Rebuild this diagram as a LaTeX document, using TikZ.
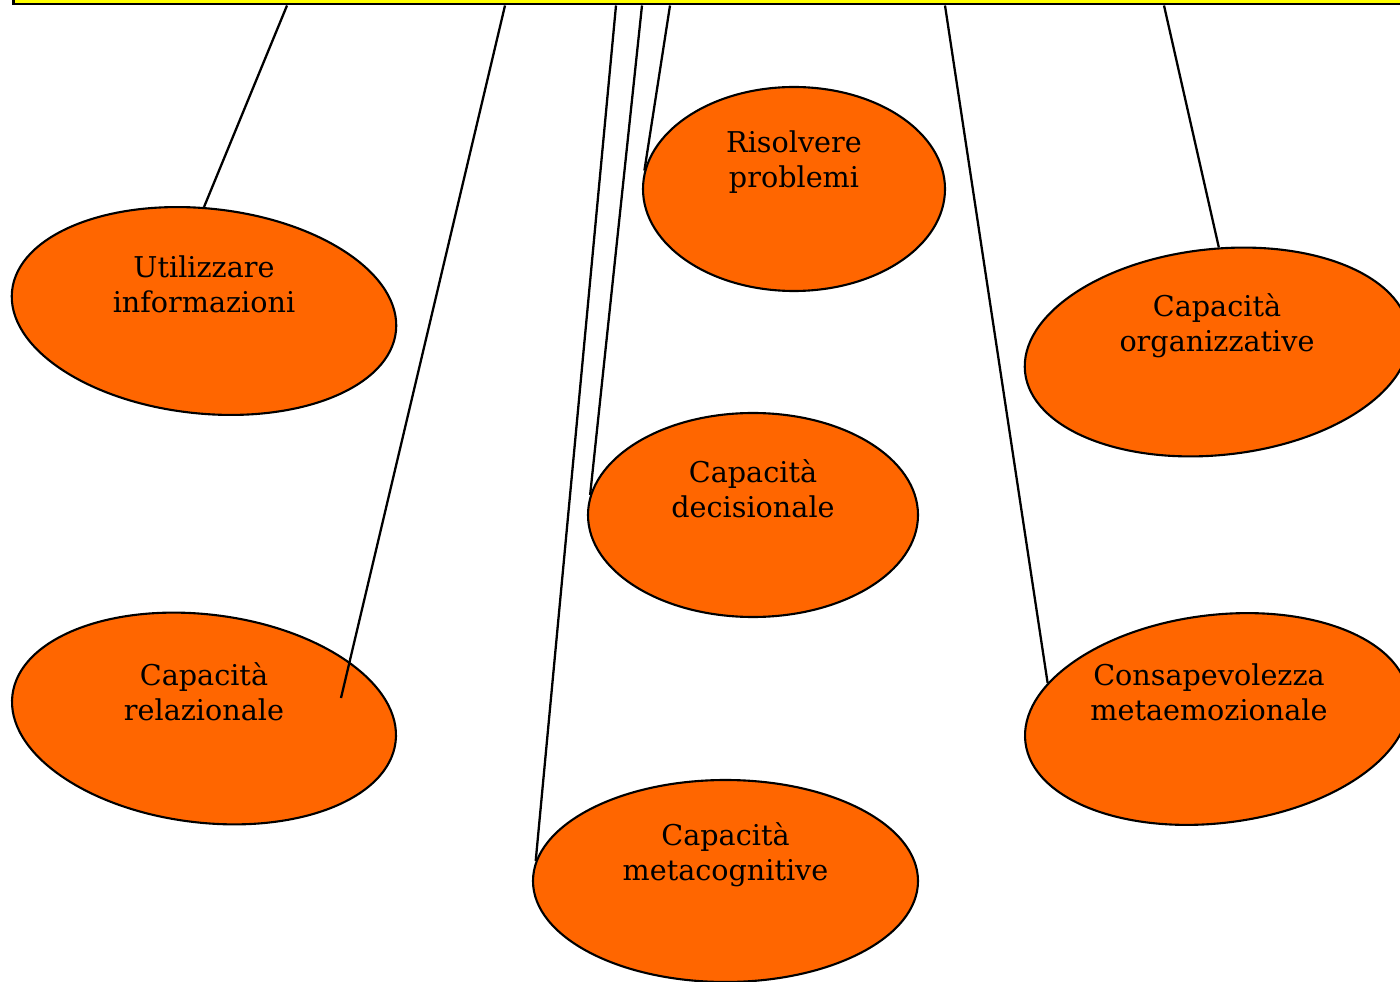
\documentclass[tikz,border=0pt]{standalone}
\usepackage{fontspec}
\setmainfont{DejaVu Serif}
\usetikzlibrary{shapes.geometric}
\definecolor{figorange}{RGB}{255,102,0}
\definecolor{figyellow}{RGB}{255,255,0}
\tikzset{
  oval/.style={ellipse, draw=black, line width=1.2pt, fill=figorange, inner sep=0pt},
  ovaltext/.style={align=center, font=\fontsize{16.3}{20}\selectfont, text=black, inner sep=0pt, yshift=0.53cm},
  topbar/.style={draw=black, line width=1.5pt, fill=figyellow, inner sep=0pt},
  link/.style={draw=black, line width=1.3pt}
}
\begin{document}
\begin{tikzpicture}[x=1cm,y=1cm]
  \useasboundingbox (0,0) rectangle (28,19.62);
  \clip (0,0) rectangle (28,19.62);

  \node[topbar, anchor=south west, minimum width=28.5cm, minimum height=1.2cm] (bar) at (0.24,19.51) {};
  \coordinate (t1) at (5.74,19.51);
  \coordinate (t2) at (10.10,19.51);
  \coordinate (t3) at (12.32,19.51);
  \coordinate (t4) at (12.84,19.51);
  \coordinate (t5) at (13.40,19.51);
  \coordinate (t6) at (18.90,19.51);
  \coordinate (t7) at (23.28,19.51);

  % left column
  \node[oval, minimum width=7.72cm, minimum height=4.10cm, rotate=-6] (util) at (4.08,13.40) {};
  \node[ovaltext] (utiltxt) at (util) {Utilizzare\\informazioni};
  \node[oval, minimum width=7.72cm, minimum height=4.16cm, rotate=-7] (relaz) at (4.08,5.25) {};
  \node[ovaltext] (relaztxt) at (relaz) {Capacità\\relazionale};
  \coordinate (relazend) at (6.82,5.66);

  % middle column
  \node[oval, minimum width=6.04cm, minimum height=4.08cm] (risolv) at (15.88,15.84) {};
  \node[ovaltext] (risolvtxt) at (risolv) {Risolvere\\problemi};
  \node[oval, minimum width=6.60cm, minimum height=4.08cm] (decis) at (15.06,9.32) {};
  \node[ovaltext] (decistxt) at (decis) {Capacità\\decisionale};
  \node[oval, minimum width=7.70cm, minimum height=4.04cm] (metacog) at (14.51,2.00) {};
  \node[ovaltext] (metacogtxt) at (metacog) {Capacità\\metacognitive};

  % right column
  \node[oval, minimum width=7.72cm, minimum height=4.12cm, rotate=6] (organ) at (24.34,12.58) {};
  \node[ovaltext] (organtxt) at (organ) {Capacità\\organizzative};
  \node[oval, minimum width=7.72cm, minimum height=4.16cm, rotate=7] (consap) at (24.34,5.24) {};
  \node[ovaltext, xshift=-0.16cm] (consaptxt) at (consap) {Consapevolezza\\metaemozionale};

  \draw[link] (t1) -- (util.96);
  \draw[link] (t2) -- (relazend);
  \draw[link] (t3) -- (metacog.174);
  \draw[link] (t4) -- (decis.173);
  \draw[link] (t5) -- (risolv.173);
  \draw[link] (t6) -- (consap.161);
  \draw[link] (t7) -- (organ.83);
\end{tikzpicture}
\end{document}
